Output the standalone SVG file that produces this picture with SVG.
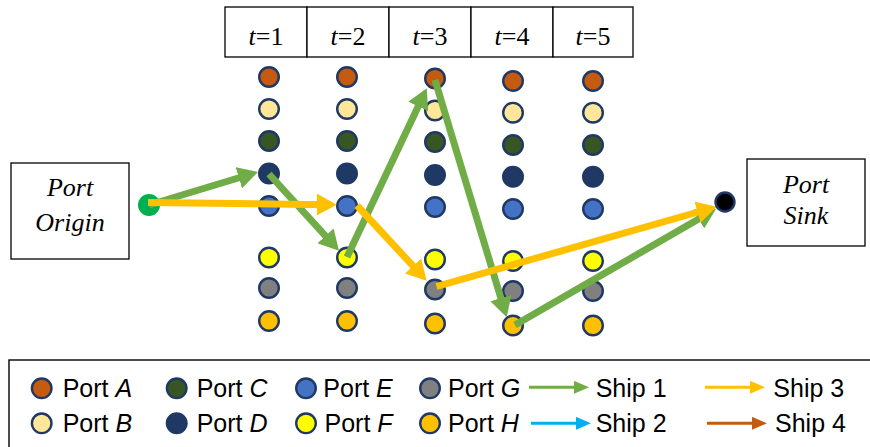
<svg xmlns="http://www.w3.org/2000/svg" width="870" height="447" viewBox="0 0 870 447">
  <style>
    .cell { fill: #fff; stroke: #000; stroke-width: 1.3; }
    .hdr { font-family: "Liberation Serif", "Times New Roman", serif; font-size: 26px; text-anchor: middle; fill: #000; }
    .lbl { font-family: "Liberation Serif", "Times New Roman", serif; font-size: 26px; font-style: italic; text-anchor: middle; fill: #000; }
    .port { stroke: #1F3864; stroke-width: 2.4; }
    .pA { fill: #C55A11; } .pB { fill: #FFE699; } .pC { fill: #375623; } .pD { fill: #1F3864; }
    .pE { fill: #4472C4; } .pF { fill: #FFFF00; } .pG { fill: #808080; } .pH { fill: #FFC000; }
    .ship1 { stroke: #70AD47; stroke-width: 7; fill: none; marker-end: url(#headGreen); }
    .ship3 { stroke: #FFC000; stroke-width: 7; fill: none; marker-end: url(#headOrange); }
    .leg { font-family: "Liberation Sans", Arial, sans-serif; font-size: 25px; fill: #000; }
  </style>
  <defs>
    <marker id="headGreen" viewBox="0 0 20 22" markerWidth="20" markerHeight="22" refX="8" refY="11" markerUnits="userSpaceOnUse" orient="auto">
      <path d="M0,0 L20,11 L0,22 z" fill="#70AD47"/>
    </marker>
    <marker id="headOrange" viewBox="0 0 20 22" markerWidth="20" markerHeight="22" refX="8" refY="11" markerUnits="userSpaceOnUse" orient="auto">
      <path d="M0,0 L20,11 L0,22 z" fill="#FFC000"/>
    </marker>
    <marker id="lgGreen" viewBox="0 0 15 13" markerWidth="15" markerHeight="13" refX="5" refY="6.5" markerUnits="userSpaceOnUse" orient="auto">
      <path d="M0,0 L15,6.5 L0,13 z" fill="#70AD47"/>
    </marker>
    <marker id="lgBlue" viewBox="0 0 15 13" markerWidth="15" markerHeight="13" refX="5" refY="6.5" markerUnits="userSpaceOnUse" orient="auto">
      <path d="M0,0 L15,6.5 L0,13 z" fill="#00B0F0"/>
    </marker>
    <marker id="lgOrange" viewBox="0 0 15 13" markerWidth="15" markerHeight="13" refX="5" refY="6.5" markerUnits="userSpaceOnUse" orient="auto">
      <path d="M0,0 L15,6.5 L0,13 z" fill="#FFC000"/>
    </marker>
    <marker id="lgBrown" viewBox="0 0 15 13" markerWidth="15" markerHeight="13" refX="5" refY="6.5" markerUnits="userSpaceOnUse" orient="auto">
      <path d="M0,0 L15,6.5 L0,13 z" fill="#C55A11"/>
    </marker>
  </defs>

  <rect width="870" height="447" fill="#fff"/>

  <!-- time period header -->
  <g id="time-header">
    <rect class="cell" x="225" y="7" width="82" height="50"/>
    <rect class="cell" x="307" y="7" width="82" height="50"/>
    <rect class="cell" x="389" y="7" width="82" height="50"/>
    <rect class="cell" x="471" y="7" width="82" height="50"/>
    <rect class="cell" x="553" y="7" width="80" height="50"/>
    <text class="hdr" x="266" y="45"><tspan font-style="italic">t</tspan>=1</text>
    <text class="hdr" x="348" y="45"><tspan font-style="italic">t</tspan>=2</text>
    <text class="hdr" x="430" y="45"><tspan font-style="italic">t</tspan>=3</text>
    <text class="hdr" x="512" y="45"><tspan font-style="italic">t</tspan>=4</text>
    <text class="hdr" x="593" y="45"><tspan font-style="italic">t</tspan>=5</text>
  </g>

  <!-- origin and sink -->
  <g id="port-origin">
    <rect class="cell" x="11" y="163" width="118" height="96"/>
    <text class="lbl" x="70" y="196">Port</text>
    <text class="lbl" x="70" y="231">Origin</text>
  </g>
  <g id="port-sink">
    <rect class="cell" x="747" y="159" width="118" height="87"/>
    <text class="lbl" x="806" y="193">Port</text>
    <text class="lbl" x="806" y="224">Sink</text>
  </g>

  <!-- port nodes, one column per period -->
  <g id="t1-ports">
    <circle class="port pA" cx="269" cy="77" r="9.8"/>
    <circle class="port pB" cx="269" cy="109" r="9.8"/>
    <circle class="port pC" cx="269" cy="141" r="9.8"/>
    <circle class="port pD" cx="269" cy="173.5" r="9.8"/>
    <circle class="port pE" cx="269" cy="206" r="9.8"/>
    <circle class="port pF" cx="269" cy="257.5" r="9.8"/>
    <circle class="port pG" cx="269" cy="288" r="9.8"/>
    <circle class="port pH" cx="269" cy="321" r="9.8"/>
  </g>
  <g id="t2-ports">
    <circle class="port pA" cx="347" cy="77" r="9.8"/>
    <circle class="port pB" cx="347" cy="109" r="9.8"/>
    <circle class="port pC" cx="347" cy="141" r="9.8"/>
    <circle class="port pD" cx="347" cy="173.5" r="9.8"/>
    <circle class="port pE" cx="347" cy="206" r="9.8"/>
    <circle class="port pF" cx="347" cy="257.5" r="9.8"/>
    <circle class="port pG" cx="347" cy="288" r="9.8"/>
    <circle class="port pH" cx="347" cy="321" r="9.8"/>
  </g>
  <g id="t3-ports">
    <circle class="port pA" cx="435" cy="78.5" r="9.8"/>
    <circle class="port pB" cx="435" cy="110.5" r="9.8"/>
    <circle class="port pC" cx="435" cy="142" r="9.8"/>
    <circle class="port pD" cx="435" cy="175" r="9.8"/>
    <circle class="port pE" cx="435" cy="207" r="9.8"/>
    <circle class="port pF" cx="435" cy="259.5" r="9.8"/>
    <circle class="port pG" cx="435" cy="289.5" r="9.8"/>
    <circle class="port pH" cx="435" cy="323.5" r="9.8"/>
  </g>
  <g id="t4-ports">
    <circle class="port pA" cx="513" cy="81" r="9.8"/>
    <circle class="port pB" cx="513" cy="112.7" r="9.8"/>
    <circle class="port pC" cx="513" cy="145" r="9.8"/>
    <circle class="port pD" cx="513" cy="176.7" r="9.8"/>
    <circle class="port pE" cx="513" cy="209" r="9.8"/>
    <circle class="port pF" cx="513" cy="261" r="9.8"/>
    <circle class="port pG" cx="513" cy="291" r="9.8"/>
    <circle class="port pH" cx="513" cy="325.5" r="9.8"/>
  </g>
  <g id="t5-ports">
    <circle class="port pA" cx="593" cy="81" r="9.8"/>
    <circle class="port pB" cx="593" cy="112.7" r="9.8"/>
    <circle class="port pC" cx="593" cy="145" r="9.8"/>
    <circle class="port pD" cx="593" cy="176.7" r="9.8"/>
    <circle class="port pE" cx="593" cy="209" r="9.8"/>
    <circle class="port pF" cx="593" cy="261" r="9.8"/>
    <circle class="port pG" cx="593" cy="291" r="9.8"/>
    <circle class="port pH" cx="593" cy="325.5" r="9.8"/>
  </g>

  <g id="origin-node">
    <circle cx="149" cy="205" r="11" fill="#00B050"/>
  </g>

  <!-- ship routes -->
  <g id="connectors">
    <line class="ship1" x1="149" y1="205" x2="246.5" y2="175.5"/>
    <line class="ship1" x1="269" y1="174" x2="330.9" y2="241.8"/>
    <line class="ship1" x1="347" y1="257" x2="421.6" y2="99.2"/>
    <line class="ship1" x1="435" y1="80" x2="503.2" y2="305.8"/>
    <line class="ship1" x1="515" y1="325" x2="705.6" y2="215"/>
    <line class="ship3" x1="148" y1="202.5" x2="324.7" y2="204.7"/>
    <line class="ship3" x1="357" y1="205.5" x2="418.5" y2="271.9"/>
    <line class="ship3" x1="436.5" y1="286.5" x2="705.2" y2="210"/>
  </g>

  <g id="sink-node">
    <circle cx="725" cy="202" r="9.5" fill="#000" stroke="#1F3864" stroke-width="2.4"/>
  </g>

  <!-- legend -->
  <g id="legend">
    <rect x="9" y="360" width="880" height="100" fill="none" stroke="#000" stroke-width="1.4"/>
    <circle class="port pA" cx="41.7" cy="388.3" r="9.8"/>
    <text class="leg" x="62.7" y="396.7">Port <tspan font-style="italic">A</tspan></text>
    <circle class="port pB" cx="41.7" cy="423.3" r="9.8"/>
    <text class="leg" x="62.7" y="431.7">Port <tspan font-style="italic">B</tspan></text>
    <circle class="port pC" cx="176.7" cy="388.3" r="9.8"/>
    <text class="leg" x="196.7" y="396.7">Port <tspan font-style="italic">C</tspan></text>
    <circle class="port pD" cx="176.7" cy="423.3" r="9.8"/>
    <text class="leg" x="196.7" y="431.7">Port <tspan font-style="italic">D</tspan></text>
    <circle class="port pE" cx="306" cy="388.3" r="9.8"/>
    <text class="leg" x="323.3" y="396.7">Port <tspan font-style="italic">E</tspan></text>
    <circle class="port pF" cx="306" cy="423.3" r="9.8"/>
    <text class="leg" x="324.5" y="431.7">Port <tspan font-style="italic">F</tspan></text>
    <circle class="port pG" cx="430" cy="388.3" r="9.8"/>
    <text class="leg" x="448" y="396.7">Port <tspan font-style="italic">G</tspan></text>
    <circle class="port pH" cx="430" cy="423.3" r="9.8"/>
    <text class="leg" x="448" y="431.7">Port <tspan font-style="italic">H</tspan></text>

    <line x1="529" y1="387.3" x2="579" y2="387.3" stroke="#70AD47" stroke-width="3" marker-end="url(#lgGreen)"/>
    <text class="leg" x="595.7" y="396.7">Ship 1</text>
    <line x1="531" y1="423.3" x2="581" y2="423.3" stroke="#00B0F0" stroke-width="3" marker-end="url(#lgBlue)"/>
    <text class="leg" x="595.7" y="431.7">Ship 2</text>
    <line x1="705" y1="387.3" x2="755" y2="387.3" stroke="#FFC000" stroke-width="3" marker-end="url(#lgOrange)"/>
    <text class="leg" x="773.3" y="396.7">Ship 3</text>
    <line x1="707" y1="423.3" x2="757" y2="423.3" stroke="#C55A11" stroke-width="3" marker-end="url(#lgBrown)"/>
    <text class="leg" x="775" y="431.7">Ship 4</text>
  </g>
</svg>
